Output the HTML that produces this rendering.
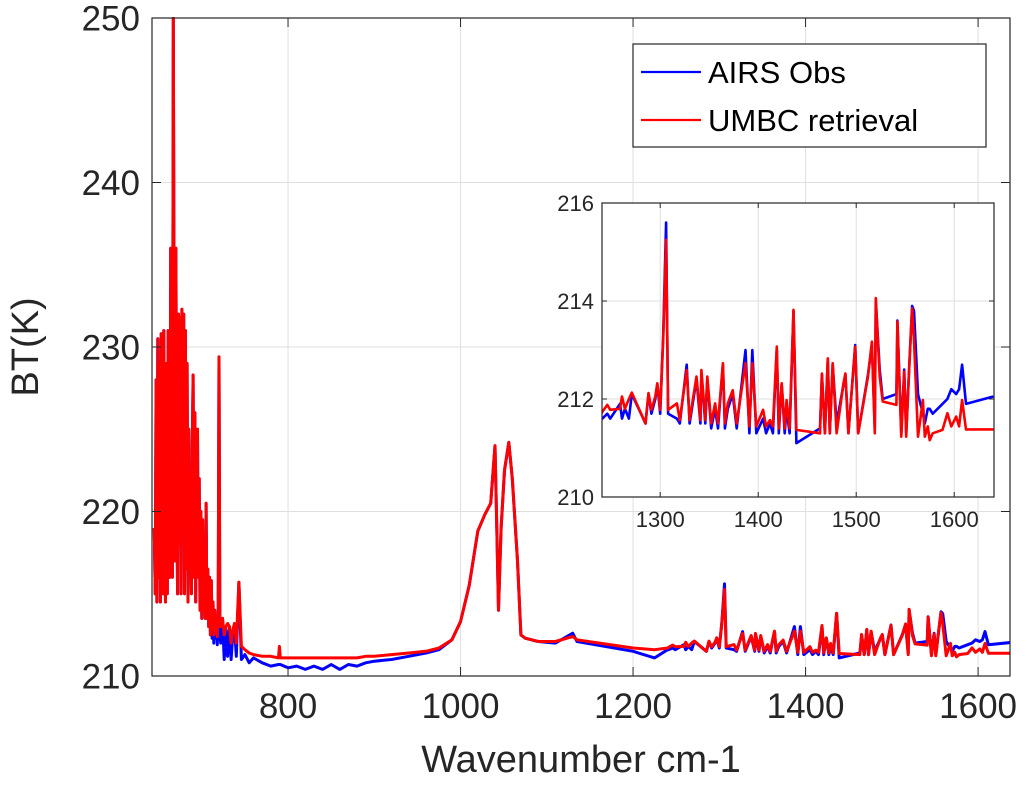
<!DOCTYPE html>
<html><head><meta charset="utf-8"><style>
html,body{margin:0;padding:0;background:#fff;}
svg{display:block;font-family:"Liberation Sans","DejaVu Sans",sans-serif;}
</style></head><body>
<svg id="chart" width="1030" height="790" viewBox="0 0 1030 790"></svg>
<script>
const wavenumbers=[
645,646,647,648,649,650,651,652,653,654,655,656,657,658,659,660,661,662,663,664,665,666,667,668,669,670,671,672,673,674,675,676,677,678,679,680,681,682,683,684,685,686,687,688,689,690,691,692,693,694,695,696,697,698,699,700,701,702,703,704,705,706,707,708,709,710,711,712,713,714,715,716,717,718,719,720,721,
722,724,726,728,730,732,734,736,738,740,743,746,750,755,760,770,780,789,790,791,800,810,820,830,840,850,860,870,880,890,900,920,940,960,975,990,
1000,1010,1020,1028,1035,1040,1042,1044,1047,1051,1056,1060,1066,1070,1075,1090,1110,1130,1135,1200,1225,1240,
1241,1246,1249,1259,1261,1264,1268,1271,1285,1288,1291,1295,1297,1300,1303,1306,1308,1317,1320,1327,1330,1337,1341,1342,1346,1348,1352,1356,1359,1364,1366,1369,1374,1378,1387,1391,1394,1398,1405,1408,1412,1415,1419,1421,1424,1427,1429,1432,1436,1439,1463,1465,1468,1471,1473,1476,1480,1487,1489,1492,1499,1502,1512,1516,1519,1520,1524,1527,1541,1542,1546,1549,1551,1554,1557,1559,1563,1568,1570,1573,1575,1578,1588,1593,1597,1602,1605,1608,1612,1640];
const obsBT=[
219,215,228,214.5,230.5,216,229,214.5,230.8,221,215,231,218,214.5,229,215,231,222,216,236,226,216,250,230,217,236,220,215,232,218,231.8,215,232.3,219,232,215,231,216.5,229,214.5,225,218,221,215,224,228.3,216,226,214.5,223,225,216,222,214,220,213.5,219.5,214,218,213.5,220.5,213.5,216.5,213,216,212.5,215.8,212.3,214.5,212,214,212.3,213.5,211.9,214,229.4,212.5,
212,213.5,211,212.8,211.2,213,211,212.5,213,211.2,215.7,211,211.3,210.8,211.1,210.8,210.6,210.7,210.7,210.7,210.5,210.6,210.4,210.6,210.4,210.7,210.4,210.7,210.6,210.8,210.9,211,211.2,211.4,211.6,212.2,
213.3,215.5,218.8,219.8,220.5,224,219,214,219,222.5,224.2,222,217,212.5,212.3,212.1,212,212.6,212.1,211.5,211.1,211.6,
211.6,211.7,211.6,211.9,211.6,211.8,211.6,212.1,211.5,212.1,211.7,212,212.3,211.7,213.3,215.6,211.7,211.6,211.5,212.7,211.5,212.4,211.5,212.5,211.5,212.4,211.4,211.8,211.4,212.7,211.4,211.8,212.1,211.4,213,211.3,213,211.3,211.6,211.3,211.5,211.3,213,211.3,212.3,211.3,211.8,211.3,213.8,211.1,211.4,212.5,211.3,212.8,211.3,212.7,211.5,212.3,212.5,211.3,213.1,211.3,212.5,213.1,211.4,214,212.6,212,212.1,213.6,211.3,212.6,211.3,212.6,213.9,213.8,212.1,211.7,211.5,211.8,211.8,211.7,211.9,212,212.2,212.1,212.2,212.7,211.9,212.05];
const retBT=[
219,215,228,214.5,230.5,216,229,214.5,230.8,221,215,231,218,214.5,229,215,231,222,216,236,226,216,250,230,217,236,220,215,232,218,231.8,215,232.3,219,232,215,231,216.5,229,214.5,225,218,221,215,224,228.3,216,226,214.5,223,225,216,222,214,220,213.5,219.5,214,218,213.5,220.5,213.5,216.5,213,216,212.5,215.8,212.8,214.5,212.5,214,212.8,213.5,212.4,214,229.4,213,
213,213.5,212.5,213,213.2,213,212,212.8,213.2,212,215.7,211.8,211.6,211.4,211.3,211.2,211.2,211.1,211.8,211.1,211.1,211.1,211.1,211.1,211.1,211.1,211.1,211.1,211.1,211.2,211.2,211.3,211.4,211.5,211.7,212.2,
213.3,215.5,218.8,219.8,220.5,224,219,214,219,222.5,224.2,222,217,212.5,212.3,212.1,212.1,212.4,212.2,211.7,211.6,211.7,
211.74,211.88,211.78,211.8,212.05,211.8,212,212.13,211.5,212.12,211.78,212.05,212.32,211.78,213.21,215.25,211.78,211.91,211.57,212.59,211.57,212.46,211.57,212.59,211.57,212.46,211.5,211.91,211.5,212.73,211.5,211.91,212.18,211.5,212.73,211.44,212.73,211.44,211.78,211.44,211.57,211.44,213.07,211.4,212.32,211.4,211.98,211.4,213.82,211.37,211.3,212.52,211.3,212.83,211.3,212.73,211.3,212.32,212.52,211.3,213.07,211.3,212.46,213.17,211.3,214.06,212.46,211.95,211.88,213.58,211.23,212.56,211.23,212.59,213.85,213.2,211.23,211.98,211.23,211.44,211.16,211.3,211.37,211.71,211.44,211.64,211.44,211.98,211.38,211.38];

const NS="http://www.w3.org/2000/svg";
const svg=document.getElementById('chart');
function mk(tag,attrs,parent){const e=document.createElementNS(NS,tag);for(const k in attrs)e.setAttribute(k,attrs[k]);(parent||svg).appendChild(e);return e;}
const C='#262626';

function drawAxes(box,xmin,xmax,ymin,ymax,xticks,yticks,namePrefix){
  const sx=v=>box.l+(v-xmin)/(xmax-xmin)*(box.r-box.l);
  const sy=v=>box.b-(v-ymin)/(ymax-ymin)*(box.b-box.t);
  const g=mk('g',{});
  
  
  mk('rect',{x:box.l,y:box.t,width:box.r-box.l,height:box.b-box.t,fill:'#fff'},g);
  xticks.forEach(t=>{const x=sx(t);mk('line',{x1:x,x2:x,y1:box.t,y2:box.b,stroke:'#dfdfdf','stroke-width':1},g);});
  yticks.forEach(t=>{const y=sy(t);mk('line',{x1:box.l,x2:box.r,y1:y,y2:y,stroke:'#dfdfdf','stroke-width':1},g);});
  return {sx,sy,g};
}
function frame(box,ax,xticks,yticks,fs,namePrefix,xlOff,ylOff,tl){
  const g=mk('g',{});
  
  
  mk('rect',{x:box.l,y:box.t,width:box.r-box.l,height:box.b-box.t,fill:'none',stroke:C,'stroke-width':1.2},g);
  xticks.forEach(t=>{const x=ax.sx(t);
    mk('line',{x1:x,x2:x,y1:box.b,y2:box.b-tl,stroke:C},g);mk('line',{x1:x,x2:x,y1:box.t,y2:box.t+tl,stroke:C},g);
    const tx=mk('text',{x:x,y:box.b+xlOff,'text-anchor':'middle','font-size':fs,fill:C},g);tx.textContent=t;
    
    });
  yticks.forEach(t=>{const y=ax.sy(t);
    mk('line',{x1:box.l,x2:box.l+tl,y1:y,y2:y,stroke:C},g);mk('line',{x1:box.r,x2:box.r-tl,y1:y,y2:y,stroke:C},g);
    const tx=mk('text',{x:box.l-ylOff,y:y+fs*0.36,'text-anchor':'end','font-size':fs,fill:C},g);tx.textContent=t;
    
    });
}
function series(ax,xs,ys,color,w,name,clipId,xmin,xmax){
  let d='';xs.forEach((x,i)=>{if(x<xmin-30||x>xmax+30)return;d+=(d?'L':'M')+ax.sx(x).toFixed(1)+','+ax.sy(ys[i]).toFixed(1);});
  const p=mk('path',{d:d,fill:'none',stroke:color,'stroke-width':w,'stroke-linejoin':'round','clip-path':'url(#'+clipId+')'});
  
  
}
const defs=mk('defs',{});
const mb={l:152,r:1010,t:18,b:676};
const mX=[800,1000,1200,1400,1600], mY=[210,220,230,240,250];
let cp=mk('clipPath',{id:'cm'},defs);mk('rect',{x:mb.l,y:mb.t-1,width:mb.r-mb.l,height:mb.b-mb.t+2},cp);
const ma=drawAxes(mb,642.3,1637,210,250,mX,mY,'main');
series(ma,wavenumbers,obsBT,'#0000ff',3,'airs-obs-line','cm',642,1637);
series(ma,wavenumbers,retBT,'#ff0000',3,'umbc-retrieval-line','cm',642,1637);
frame(mb,ma,mX,mY,35,'main',42,12,9);
let t=mk('text',{x:(mb.l+mb.r)/2,y:772,'text-anchor':'middle','font-size':38,fill:C});t.textContent='Wavenumber cm-1';

t=mk('text',{x:0,y:0,'text-anchor':'middle','font-size':38,fill:C,transform:'translate(38,347) rotate(-90)'});t.textContent='BT(K)';

const lg=mk('g',{});
mk('rect',{x:633,y:44,width:353,height:103,fill:'#fff',stroke:C,'stroke-width':1.2},lg);
mk('line',{x1:641,x2:701,y1:72,y2:72,stroke:'#0000ff','stroke-width':2.2},lg);
mk('line',{x1:641,x2:701,y1:120,y2:120,stroke:'#ff0000','stroke-width':2.2},lg);
t=mk('text',{x:708,y:83,'font-size':31,fill:'#000'},lg);t.textContent='AIRS Obs';

t=mk('text',{x:708,y:131,'font-size':31,fill:'#000'},lg);t.textContent='UMBC retrieval';

const ib={l:602,r:994,t:203,b:497};
const iX=[1300,1400,1500,1600], iY=[210,212,214,216];
cp=mk('clipPath',{id:'ci'},defs);mk('rect',{x:ib.l,y:ib.t,width:ib.r-ib.l,height:ib.b-ib.t},cp);
const ia=drawAxes(ib,1240.6,1640.6,210,216,iX,iY,'inset');
series(ia,wavenumbers,obsBT,'#0000ff',2.6,'inset-airs-obs-line','ci',1240,1641);
series(ia,wavenumbers,retBT,'#ff0000',2.6,'inset-umbc-retrieval-line','ci',1240,1641);
frame(ib,ia,iX,iY,22,'inset',30,8,5);
</script>
</body></html>
